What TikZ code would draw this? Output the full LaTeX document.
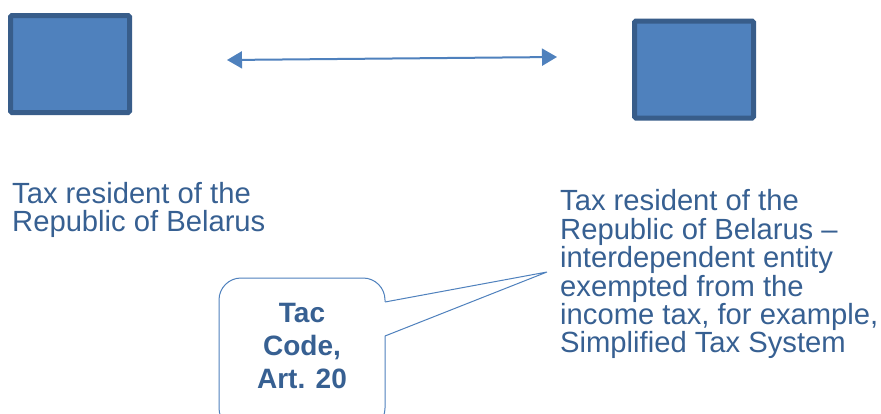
\documentclass[tikz,border=0pt]{standalone}
\usepackage{fontspec}
\setmainfont{Liberation Sans}
\usetikzlibrary{arrows.meta}
\definecolor{boxfill}{HTML}{4F81BD}
\definecolor{boxline}{HTML}{385D8A}
\definecolor{txtblue}{HTML}{376092}

\begin{document}
\begin{tikzpicture}[x=1pt,y=-1pt,
    entity/.style={draw=boxline, fill=boxfill, line width=5pt, rounded corners=1.5pt,
      inner sep=0pt, minimum width=119pt, minimum height=97pt},
    restext/.style={anchor=north west, inner sep=0pt, align=left, text=txtblue,
      font=\fontsize{29.2}{28.4}\selectfont},
    callout/.style={draw=boxfill, line width=1pt, fill=white, rounded corners=22pt,
      inner sep=0pt, minimum width=166pt, minimum height=152pt}]
  \clip (0,0) rectangle (881,413);
  \fill[white] (0,0) rectangle (881,413);
  % the two entities
  \node[entity] (resA) at (70,64) {};
  \node[entity] (resB) at (694,69.5) {};
  \coordinate (linkA) at (227,60);
  \coordinate (linkB) at (557,57);
  \draw[boxfill, line width=2pt, {Triangle[length=15pt,width=17pt]}-{Triangle[length=15pt,width=17pt]}] (linkA) -- (linkB);
  % captions
  \node[restext] (capA) at (12,182) {Tax resident of the\\Republic of Belarus};
  \node[restext] (capB) at (560,189.5) {Tax resident of the\\Republic of Belarus --\\interdependent entity\\exempted from the\\income tax, for example,\\Simplified Tax System};
  % callout
  \node[callout] (callbox) at (302,354) {};
  \node[text=txtblue, align=center, inner sep=0pt, font=\bfseries\fontsize{28}{33}\selectfont] (taccode) at (302,346) {Tac\\Code,\\Art. 20};
  \coordinate (ptrA) at (385,302);
  \coordinate (ptrB) at (385,336);
  \coordinate (ptrTip) at (547,272);
  \fill[white] ([xshift=-1pt]ptrA) -- (ptrTip) -- ([xshift=-1pt]ptrB) -- cycle;
  \draw[boxfill, line width=1pt] (ptrA) -- (ptrTip) -- (ptrB);
\end{tikzpicture}
\end{document}
